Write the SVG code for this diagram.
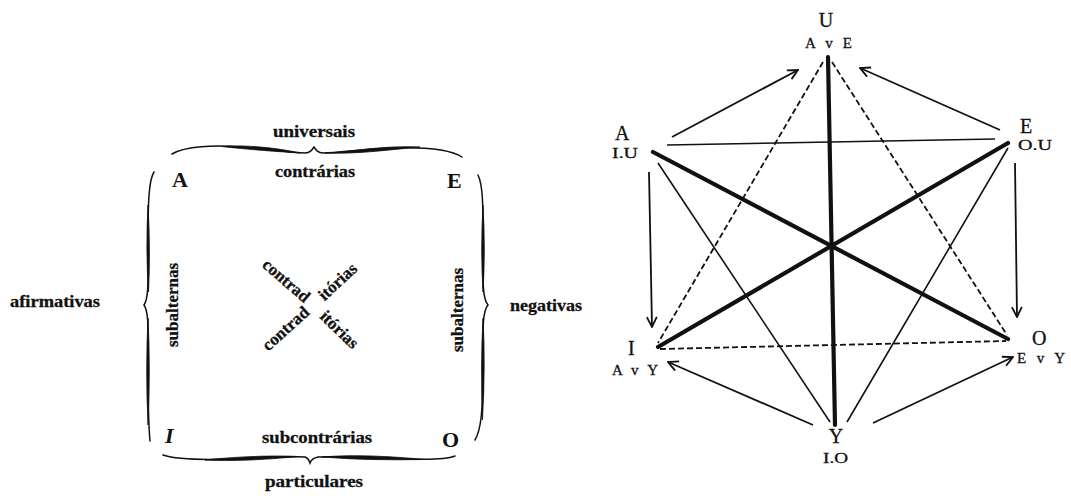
<svg xmlns="http://www.w3.org/2000/svg" width="1071" height="496" viewBox="0 0 1071 496">
<defs>
<style>
.lbl{font-family:"Liberation Serif","DejaVu Serif",serif;font-weight:bold;font-size:17px;fill:#111;stroke:#111;stroke-width:0.3}
.big{font-family:"Liberation Serif","DejaVu Serif",serif;font-weight:bold;font-size:22px;fill:#111}
.hv{font-family:"Liberation Serif","DejaVu Serif",serif;font-size:20px;fill:#111;stroke:#111;stroke-width:0.3}
.hs{font-family:"Liberation Serif","DejaVu Serif",serif;font-size:15px;fill:#111;stroke:#111;stroke-width:0.3}
.brace{fill:none;stroke:#111;stroke-width:1.5;stroke-linecap:round}
.lens{fill:#111;stroke:#111;stroke-width:0.8}
.thick{stroke:#111;stroke-width:4.2;stroke-linecap:round;fill:none}
.thin{stroke:#111;stroke-width:1.6;fill:none}
.dash{stroke:#111;stroke-width:1.8;stroke-dasharray:6 3;fill:none}
.arr{stroke:#111;stroke-width:1.8;fill:none;marker-end:url(#ah)}
</style>
<marker id="ah" viewBox="0 0 12 12" refX="11" refY="6" markerWidth="12" markerHeight="12" markerUnits="userSpaceOnUse" orient="auto">
<path d="M1,1 L11,6 L1,11" fill="none" stroke="#111" stroke-width="1.8"/>
</marker>
</defs>
<rect width="1071" height="496" fill="#fff"/>

<!-- Left: square of opposition -->
<g id="square">
<g id="brace-top">
<path class="brace" d="M172,154 C185,146 215,145 240,147 C270,149 290,153 305,153 C310,153 312,150 314,147 C316,150 318,153 323,153 C340,153 360,149 390,148 C420,147 450,149 462,157"/>
<path class="lens" d="M222,146.5 C245,144.3 280,148.3 300,153 C280,151.8 245,149.3 222,146.5 Z"/>
<path class="lens" d="M325,153 C350,152.2 380,145.3 420,147 C385,150.2 355,154.3 325,153 Z"/>
</g>
<g id="brace-bottom">
<path class="brace" d="M163,455 C175,459 200,460 230,459 C270,458 295,456 305,457 C308,458 309,460 310,463 C311,460 313,458 318,457 C340,456 380,458 410,459 C440,460 450,458 455,456"/>
<path class="lens" d="M205,460 C240,456.3 275,455.3 298,456.5 C275,458.7 240,461.7 205,460 Z"/>
<path class="lens" d="M322,457 C355,454.3 390,456.3 425,459.5 C390,460.2 355,459.7 322,457 Z"/>
</g>
<g id="brace-left">
<path class="brace" d="M154,172 C149,180 148,200 148,240 C148,280 149,298 144,305 C149,312 148,330 148,370 C148,410 149,430 150,441"/>
<path class="lens" d="M148,205 Q150.6,250 148.5,292 Q145.6,250 148,205 Z"/>
<path class="lens" d="M148,318 Q150.6,370 148,425 Q145.4,370 148,318 Z"/>
</g>
<g id="brace-right">
<path class="brace" d="M478,175 C483,185 483,205 483,240 C483,280 482,298 488,305 C482,312 483,330 483,370 C483,410 481,430 475,440"/>
<path class="lens" d="M483,205 Q485.6,250 483,292 Q480.4,250 483,205 Z"/>
<path class="lens" d="M483,318 Q485.6,365 482.5,420 Q480.4,365 483,318 Z"/>
</g>

<g id="node-A"><text class="big" x="172" y="187">A</text></g>
<g id="node-E"><text class="big" x="447" y="188">E</text></g>
<g id="node-I"><text class="big" x="165" y="443" font-style="italic">I</text></g>
<g id="node-O"><text class="big" x="442" y="447">O</text></g>

<text class="lbl" x="273" y="137" textLength="82" lengthAdjust="spacingAndGlyphs">universais</text>
<text class="lbl" x="275" y="177" textLength="80" lengthAdjust="spacingAndGlyphs">contrárias</text>
<text class="lbl" x="262" y="443" textLength="110" lengthAdjust="spacingAndGlyphs">subcontrárias</text>
<text class="lbl" x="265" y="487" textLength="98" lengthAdjust="spacingAndGlyphs">particulares</text>
<text class="lbl" x="10" y="307" textLength="90" lengthAdjust="spacingAndGlyphs">afirmativas</text>
<text class="lbl" x="510" y="311" textLength="72" lengthAdjust="spacingAndGlyphs">negativas</text>
<text class="lbl" transform="translate(178,305) rotate(-90)" text-anchor="middle">subalternas</text>
<text class="lbl" transform="translate(463,310) rotate(-90)" text-anchor="middle">subalternas</text>

<text class="lbl" transform="translate(286,281) rotate(41)" text-anchor="middle" dy="5">contrad</text>
<text class="lbl" transform="translate(338,282) rotate(-43)" text-anchor="middle" dy="5">itórias</text>
<text class="lbl" transform="translate(286,329) rotate(-42)" text-anchor="middle" dy="5">contrad</text>
<text class="lbl" transform="translate(339,330) rotate(44)" text-anchor="middle" dy="5">itórias</text>
</g>

<!-- Right: hexagon -->
<g id="connectors">
<line class="thin" x1="667" y1="145" x2="995" y2="139"/>
<line class="thin" x1="658" y1="163" x2="830" y2="422"/>
<line class="thin" x1="1008" y1="148" x2="847" y2="422"/>
<line class="dash" x1="823" y1="62" x2="658" y2="343"/>
<line class="dash" x1="832" y1="62" x2="1007" y2="335"/>
<line class="dash" x1="660" y1="349" x2="1006" y2="341"/>
<line class="thick" x1="828" y1="57" x2="835" y2="425"/>
<line class="thick" x1="653" y1="152" x2="1008" y2="339"/>
<line class="thick" x1="1008" y1="143" x2="658" y2="347"/>
<line class="arr" x1="672" y1="137" x2="798" y2="70"/>
<line class="arr" x1="1000" y1="130" x2="860" y2="68"/>
<line class="arr" x1="649" y1="172" x2="652" y2="327"/>
<line class="arr" x1="1015" y1="163" x2="1017" y2="317"/>
<line class="arr" x1="813" y1="425" x2="668" y2="362"/>
<line class="arr" x1="873" y1="423" x2="1013" y2="357"/>
</g>

<g id="hex-U">
<text class="hv" x="826" y="27" text-anchor="middle">U</text>
<text class="hs" x="805" y="48" textLength="47" lengthAdjust="spacing">A v E</text>
</g>
<g id="hex-A">
<text class="hv" x="615" y="140">A</text>
<text class="hs" x="612" y="158" textLength="26" lengthAdjust="spacingAndGlyphs">I.U</text>
</g>
<g id="hex-E">
<text class="hv" x="1020" y="133">E</text>
<text class="hs" x="1018" y="150" textLength="34" lengthAdjust="spacingAndGlyphs">O.U</text>
</g>
<g id="hex-I">
<text class="hv" x="628" y="355">I</text>
<text class="hs" x="612" y="375" textLength="46" lengthAdjust="spacing">A v Y</text>
</g>
<g id="hex-O">
<text class="hv" x="1032" y="345">O</text>
<text class="hs" x="1017" y="363" textLength="48" lengthAdjust="spacing">E v Y</text>
</g>
<g id="hex-Y">
<text class="hv" x="836" y="443" text-anchor="middle">Y</text>
<text class="hs" x="823" y="463" textLength="25" lengthAdjust="spacingAndGlyphs">I.O</text>
</g>
</svg>
